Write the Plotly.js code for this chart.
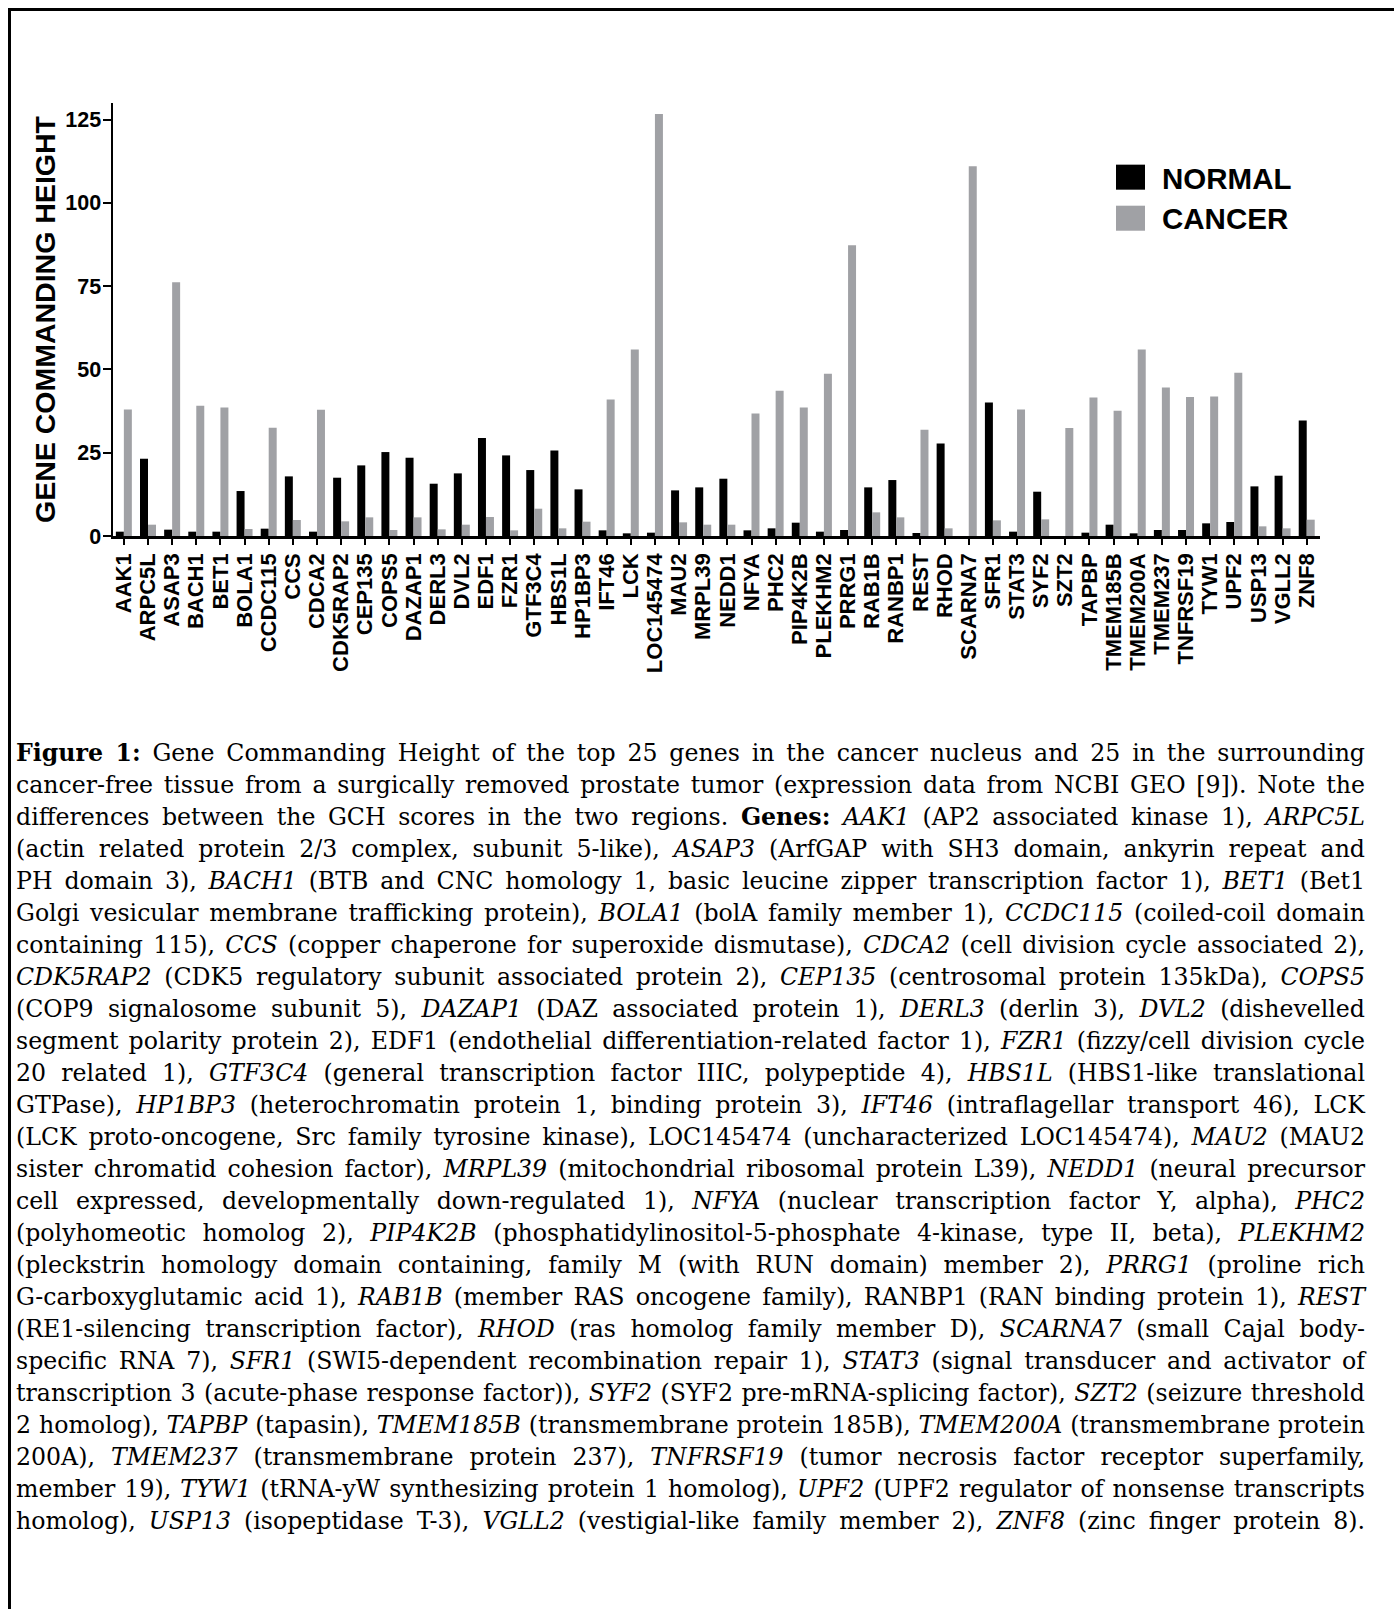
<!DOCTYPE html>
<html>
<head>
<meta charset="utf-8">
<script src="https://cdn.plot.ly/plotly-3.0.1.min.js"></script>
<style>
html,body{margin:0;padding:0;background:#fff;}
body{width:1394px;height:1609px;position:relative;overflow:hidden;}
#frame{position:absolute;left:8px;top:8px;right:0;bottom:0;border-left:3px solid #000;border-top:3px solid #000;pointer-events:none;z-index:5;}
#chart{position:absolute;left:0;top:0;width:1394px;height:700px;}
#caption{position:absolute;left:16px;top:737px;width:1349px;font-family:"DejaVu Serif",serif;font-size:21px;color:#000;}
.ln{height:32px;line-height:32px;text-align:justify;text-align-last:justify;white-space:normal;}
#measure{position:absolute;left:20px;top:0;white-space:nowrap;visibility:hidden;font-family:"DejaVu Serif",serif;font-size:21px;}
</style>
</head>
<body>
<div id="frame"></div>
<div id="chart"></div>
<div id="caption"></div>
<span id="measure"></span>
<script>
// ---- data ----
const genes = ["AAK1","ARPC5L","ASAP3","BACH1","BET1","BOLA1","CCDC115","CCS","CDCA2","CDK5RAP2",
  "CEP135","COPS5","DAZAP1","DERL3","DVL2","EDF1","FZR1","GTF3C4","HBS1L","HP1BP3",
  "IFT46","LCK","LOC145474","MAU2","MRPL39","NEDD1","NFYA","PHC2","PIP4K2B","PLEKHM2",
  "PRRG1","RAB1B","RANBP1","REST","RHOD","SCARNA7","SFR1","STAT3","SYF2","SZT2",
  "TAPBP","TMEM185B","TMEM200A","TMEM237","TNFRSF19","TYW1","UPF2","USP13","VGLL2","ZNF8"];
const normal = [1.3,23.2,1.9,1.3,1.3,13.5,2.2,17.9,1.3,17.5,
  21.2,25.2,23.5,15.7,18.8,29.4,24.2,19.8,25.7,14.0,
  1.7,0.8,1.0,13.7,14.6,17.2,1.7,2.3,4.0,1.3,
  1.8,14.6,16.8,0.9,27.8,0,40.1,1.3,13.3,0,
  1.0,3.4,0.8,1.8,1.8,3.8,4.2,14.9,18.1,34.7];
const cancer = [38.0,3.4,76.2,39.1,38.6,2.1,32.5,4.8,37.9,4.4,
  5.6,1.8,5.6,2.0,3.4,5.7,1.7,8.2,2.3,4.3,
  41.0,56.0,126.7,4.1,3.4,3.4,36.8,43.6,38.6,48.7,
  87.3,7.1,5.6,31.9,2.3,111.0,4.7,38.0,5.0,32.4,
  41.6,37.6,56.0,44.6,41.7,41.9,49.0,2.9,2.3,4.9];
const yTicks = [0,25,50,75,100,125];
const seriesNames = ["NORMAL","CANCER"];
const yTitle = "GENE COMMANDING HEIGHT";

const captionLines = [
 "<b>Figure 1:</b> Gene Commanding Height of the top 25 genes in the cancer nucleus and 25 in the surrounding",
 "cancer-free tissue from a surgically removed prostate tumor (expression data from NCBI GEO [9]). Note the",
 "differences between the GCH scores in the two regions. <b>Genes:</b> <i>AAK1</i> (AP2 associated kinase 1), <i>ARPC5L</i>",
 "(actin related protein 2/3 complex, subunit 5-like), <i>ASAP3</i> (ArfGAP with SH3 domain, ankyrin repeat and",
 "PH domain 3), <i>BACH1</i> (BTB and CNC homology 1, basic leucine zipper transcription factor 1), <i>BET1</i> (Bet1",
 "Golgi vesicular membrane trafficking protein), <i>BOLA1</i> (bolA family member 1), <i>CCDC115</i> (coiled-coil domain",
 "containing 115), <i>CCS</i> (copper chaperone for superoxide dismutase), <i>CDCA2</i> (cell division cycle associated 2),",
 "<i>CDK5RAP2</i> (CDK5 regulatory subunit associated protein 2), <i>CEP135</i> (centrosomal protein 135kDa), <i>COPS5</i>",
 "(COP9 signalosome subunit 5), <i>DAZAP1</i> (DAZ associated protein 1), <i>DERL3</i> (derlin 3), <i>DVL2</i> (dishevelled",
 "segment polarity protein 2), EDF1 (endothelial differentiation-related factor 1), <i>FZR1</i> (fizzy/cell division cycle",
 "20 related 1), <i>GTF3C4</i> (general transcription factor IIIC, polypeptide 4), <i>HBS1L</i> (HBS1-like translational",
 "GTPase), <i>HP1BP3</i> (heterochromatin protein 1, binding protein 3), <i>IFT46</i> (intraflagellar transport 46), LCK",
 "(LCK proto-oncogene, Src family tyrosine kinase), LOC145474 (uncharacterized LOC145474), <i>MAU2</i> (MAU2",
 "sister chromatid cohesion factor), <i>MRPL39</i> (mitochondrial ribosomal protein L39), <i>NEDD1</i> (neural precursor",
 "cell expressed, developmentally down-regulated 1), <i>NFYA</i> (nuclear transcription factor Y, alpha), <i>PHC2</i>",
 "(polyhomeotic homolog 2), <i>PIP4K2B</i> (phosphatidylinositol-5-phosphate 4-kinase, type II, beta), <i>PLEKHM2</i>",
 "(pleckstrin homology domain containing, family M (with RUN domain) member 2), <i>PRRG1</i> (proline rich",
 "G-carboxyglutamic acid 1), <i>RAB1B</i> (member RAS oncogene family), RANBP1 (RAN binding protein 1), <i>REST</i>",
 "(RE1-silencing transcription factor), <i>RHOD</i> (ras homolog family member D), <i>SCARNA7</i> (small Cajal body-",
 "specific RNA 7), <i>SFR1</i> (SWI5-dependent recombination repair 1), <i>STAT3</i> (signal transducer and activator of",
 "transcription 3 (acute-phase response factor)), <i>SYF2</i> (SYF2 pre-mRNA-splicing factor), <i>SZT2</i> (seizure threshold",
 "2 homolog), <i>TAPBP</i> (tapasin), <i>TMEM185B</i> (transmembrane protein 185B), <i>TMEM200A</i> (transmembrane protein",
 "200A), <i>TMEM237</i> (transmembrane protein 237), <i>TNFRSF19</i> (tumor necrosis factor receptor superfamily,",
 "member 19), <i>TYW1</i> (tRNA-yW synthesizing protein 1 homolog), <i>UPF2</i> (UPF2 regulator of nonsense transcripts",
 "homolog), <i>USP13</i> (isopeptidase T-3), <i>VGLL2</i> (vestigial-like family member 2), <i>ZNF8</i> (zinc finger protein 8)."
];

// ---- layout geometry (pixels) ----
const DIV_W = 1394, DIV_H = 700;
const PL = 113, PR = 1320, PT = 103.4, PB = 536;
const px2x = p => (p - PL) / (PR - PL);
const py2y = p => (PB - p) / (PB - PT);
const SANS = "Liberation Sans, Arial, Helvetica, sans-serif";
const BLACK = "#000000", GREY = "#a0a1a5";

const traces = [
  {type:"bar", name:seriesNames[0], x:genes, y:normal, marker:{color:BLACK, line:{width:0}}, hoverinfo:"x+y+name"},
  {type:"bar", name:seriesNames[1], x:genes, y:cancer, marker:{color:GREY, line:{width:0}}, hoverinfo:"x+y+name"}
];

const layout = {
  width: DIV_W, height: DIV_H,
  margin: {l: PL, r: DIV_W - PR, t: PT, b: DIV_H - PB, pad: 0},
  paper_bgcolor: "rgba(0,0,0,0)", plot_bgcolor: "rgba(0,0,0,0)",
  barmode: "group", bargap: 0.338, bargroupgap: 0,
  showlegend: false,
  font: {family: SANS, color: "#000"},
  xaxis: {
    type: "category", range: [-0.45, 49.55],
    tickmode: "array", tickvals: genes, ticktext: genes,
    showline: true, linewidth: 2.5, linecolor: "#000",
    ticks: "outside", ticklen: 6, tickwidth: 2, tickcolor: "#000",
    tickangle: -90, tickfont: {family: SANS, size: 22, weight: "bold", color: "#000"},
    showgrid: false, zeroline: false, automargin: false
  },
  yaxis: {
    range: [0, 130], tickmode: "array", tickvals: yTicks, ticktext: yTicks.map(String),
    showline: true, linewidth: 2.5, linecolor: "#000",
    ticks: "outside", ticklen: 8, tickwidth: 2, tickcolor: "#000",
    ticklabelstandoff: -3,
    tickfont: {family: SANS, size: 21.5, weight: "bold", color: "#000"},
    title: {text: yTitle, font: {family: SANS, size: 28.5, weight: "bold", color: "#000"}, standoff: 2},
    showgrid: false, zeroline: false, automargin: false
  },
  shapes: [
    {type:"rect", xref:"paper", yref:"paper", x0:px2x(1116), x1:px2x(1145), y0:py2y(190), y1:py2y(165), fillcolor:BLACK, line:{width:0}},
    {type:"rect", xref:"paper", yref:"paper", x0:px2x(1116), x1:px2x(1145), y0:py2y(231), y1:py2y(206), fillcolor:GREY, line:{width:0}}
  ],
  annotations: [
    {xref:"paper", yref:"paper", x:px2x(1160), y:py2y(179), xanchor:"left", yanchor:"middle", showarrow:false,
     text:seriesNames[0], font:{family:SANS, size:29.5, weight:"bold", color:"#000"}},
    {xref:"paper", yref:"paper", x:px2x(1160), y:py2y(219), xanchor:"left", yanchor:"middle", showarrow:false,
     text:seriesNames[1], font:{family:SANS, size:29.5, weight:"bold", color:"#000"}}
  ]
};

Plotly.newPlot("chart", traces, layout, {displayModeBar: false, staticPlot: true});

// ---- caption: font sized so the longest line fills the measure, each line justified ----
const cap = document.getElementById("caption");
const meas = document.getElementById("measure");
const W = 1349;
let maxW = 0;
captionLines.forEach(html => {
  meas.innerHTML = html;
  maxW = Math.max(maxW, meas.getBoundingClientRect().width);
});
const fs = Math.min(24, 21 * (W - 3) / maxW);
cap.style.fontSize = fs + "px";
meas.style.fontSize = fs + "px";
captionLines.forEach(html => {
  const d = document.createElement("div");
  d.className = "ln";
  d.innerHTML = html;
  meas.innerHTML = html;
  const w = meas.getBoundingClientRect().width;
  if (w > W - 2) {
    d.style.letterSpacing = ((W - 2 - w) / meas.textContent.length) + "px";
  }
  cap.appendChild(d);
});
meas.remove();
</script>
</body>
</html>
